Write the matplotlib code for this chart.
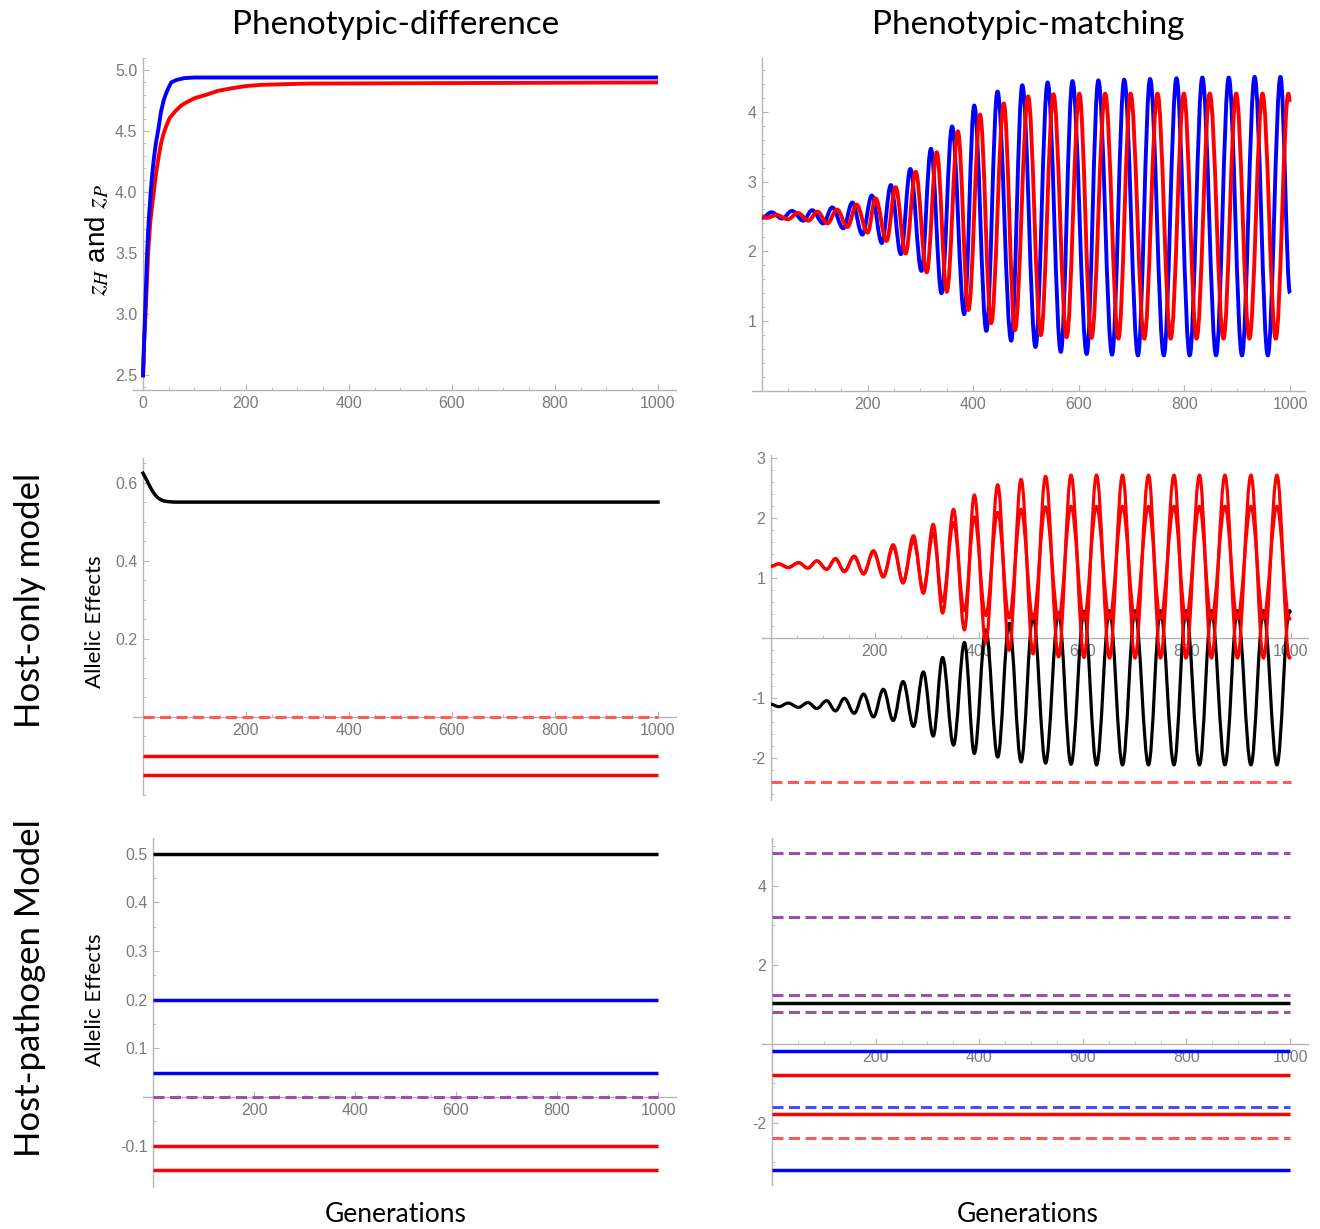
import numpy as np
import matplotlib
matplotlib.use("Agg")
import matplotlib.pyplot as plt
from matplotlib.path import Path
from matplotlib.patches import PathPatch
from matplotlib.ticker import FixedLocator, FormatStrFormatter

plt.rcParams['mathtext.fontset'] = 'stix'

# ---- data ----
# top left: phenotypic-difference trait means
tl_t = [0, 2, 4, 6, 8, 10, 12, 15, 18, 21, 25, 30, 35, 40, 44, 50, 55, 65, 80, 100, 150, 1000]
tl_blue = [2.48, 2.75, 3.00, 3.25, 3.50, 3.68, 3.82, 4.00, 4.15, 4.27, 4.40, 4.52, 4.66, 4.75, 4.80, 4.86, 4.90, 4.92, 4.935, 4.94, 4.94, 4.94]
tl_red_t = [0, 2, 5, 8, 10, 14, 18, 21, 25, 30, 35, 40, 46, 52, 62, 74, 86, 100, 124, 145, 170, 200, 230, 270, 320, 1000]
tl_red = [2.50, 2.75, 3.00, 3.30, 3.50, 3.75, 3.90, 4.00, 4.14, 4.28, 4.40, 4.48, 4.55, 4.61, 4.66, 4.71, 4.74, 4.77, 4.80, 4.83, 4.85, 4.87, 4.88, 4.885, 4.89, 4.90]

# top right: phenotypic-matching trait means (turning points)
tr_blue_t = [0, 18, 38, 57, 78, 95, 116, 133, 154, 171, 190, 208, 227, 244, 263, 281, 302, 320,
             340, 360, 383, 402, 425, 446, 472, 493, 518, 541, 566, 588, 615, 637, 663, 686,
             712, 735, 761, 785, 810, 834, 860, 884, 909, 933, 958, 982, 1000]
tr_blue = [2.48, 2.56, 2.47, 2.58, 2.44, 2.59, 2.40, 2.63, 2.33, 2.70, 2.24, 2.80, 2.12, 2.95, 1.96,
           3.18, 1.72, 3.47, 1.40, 3.79, 1.10, 4.09, 0.86, 4.29, 0.72, 4.38, 0.63, 4.42, 0.56, 4.44,
           0.53, 4.45, 0.52, 4.46, 0.51, 4.47, 0.51, 4.48, 0.51, 4.49, 0.51, 4.49, 0.51, 4.50, 0.51,
           4.50, 1.40]
tr_red_t = [0, 9, 28, 49, 68, 88, 105, 124, 142, 162, 179, 200, 215, 236, 253, 272, 291, 312, 331,
            350, 371, 391, 413, 434, 458, 479, 504, 528, 552, 577, 601, 624, 650, 675, 698, 724,
            749, 774, 799, 823, 848, 874, 898, 923, 948, 973, 997, 1000]
tr_red = [2.50, 2.48, 2.52, 2.46, 2.55, 2.44, 2.57, 2.40, 2.60, 2.35, 2.67, 2.27, 2.76, 2.15, 2.92,
          1.97, 3.14, 1.70, 3.42, 1.42, 3.72, 1.16, 3.96, 0.97, 4.12, 0.87, 4.22, 0.80, 4.25, 0.77,
          4.26, 0.76, 4.26, 0.75, 4.26, 0.75, 4.26, 0.75, 4.26, 0.75, 4.26, 0.75, 4.26, 0.75, 4.26,
          0.75, 4.26, 4.14]

# middle left: host-only model, phenotypic-difference
ml_black_t = [0, 5, 10, 15, 20, 25, 30, 35, 40, 50, 60, 80, 100, 1000]
ml_black = [0.625, 0.613, 0.600, 0.587, 0.576, 0.567, 0.561, 0.557, 0.554, 0.552, 0.551, 0.551, 0.551, 0.551]
ml_red = [-0.10, -0.15]
ml_red_dash = [0.0]

# middle right: host-only model, phenotypic-matching (turning points)
mr_t = [0, 15, 33, 53, 71, 88, 107, 124, 141, 160, 178, 197, 216, 235, 254, 274, 293, 312, 330,
        351, 372, 391, 413, 436, 458, 481, 504, 528, 553, 577, 602, 626, 651, 676, 700, 726, 749,
        775, 798, 824, 847, 873, 897, 923, 947, 973, 997, 1000]
mr_black = [-1.10, -1.14, -1.08, -1.15, -1.07, -1.17, -1.04, -1.21, -1.00, -1.25, -0.93, -1.31,
            -0.85, -1.37, -0.72, -1.47, -0.56, -1.63, -0.32, -1.78, -0.07, -1.92, 0.14, -1.98, 0.25,
            -2.06, 0.39, -2.08, 0.43, -2.10, 0.45, -2.11, 0.46, -2.11, 0.46, -2.11, 0.46, -2.11,
            0.46, -2.11, 0.46, -2.11, 0.46, -2.11, 0.46, -2.11, 0.46, 0.42]
mr_red_outer = [1.20, 1.24, 1.18, 1.26, 1.17, 1.29, 1.15, 1.33, 1.11, 1.37, 1.07, 1.46, 1.02, 1.56,
                0.92, 1.71, 0.75, 1.90, 0.42, 2.15, 0.14, 2.39, -0.07, 2.56, -0.20, 2.65, -0.26,
                2.70, -0.31, 2.72, -0.32, 2.72, -0.33, 2.72, -0.33, 2.72, -0.33, 2.72, -0.33, 2.72,
                -0.33, 2.72, -0.33, 2.72, -0.33, 2.72, -0.33, -0.30]
mr_red_inner = [1.20, 1.24, 1.18, 1.26, 1.17, 1.29, 1.15, 1.32, 1.12, 1.36, 1.08, 1.44, 1.04, 1.52,
                0.95, 1.62, 0.82, 1.75, 0.62, 1.93, 0.46, 2.02, 0.38, 2.10, 0.34, 2.15, 0.32, 2.19,
                0.32, 2.20, 0.32, 2.20, 0.32, 2.20, 0.32, 2.20, 0.32, 2.20, 0.32, 2.20, 0.32, 2.20,
                0.32, 2.20, 0.32, 2.20, 0.32, 0.34]
mr_red_dash = [-2.40]

# bottom left: host-pathogen model, phenotypic-difference
bl_black = [0.50]
bl_blue = [0.20, 0.05]
bl_purple_dash = [0.0]
bl_red = [-0.10, -0.15]

# bottom right: host-pathogen model, phenotypic-matching
br_purple_dash = [4.83, 3.22, 1.23, 0.82]
br_black = [1.03]
br_blue = [-0.18, -3.19]
br_blue_dash = [-1.59]
br_red = [-0.78, -1.78]
br_red_dash = [-2.39]

gen_end = 1000

BLUE = '#0000ff'
RED = '#ff0000'
RED_D = '#ff5a5a'
BLUE_D = '#4b4bff'
PURPLE = '#9e4fae'
AXIS = '#b5b5b5'
TICK = '#7a7a7a'


def wave(ax, t, v, color, lw, k=0.364):
    # smooth stroke through the turning points (horizontal tangents)
    verts = [(t[0], v[0])]
    codes = [Path.MOVETO]
    for i in range(len(t) - 1):
        dt = t[i + 1] - t[i]
        verts += [(t[i] + k * dt, v[i]), (t[i + 1] - k * dt, v[i + 1]), (t[i + 1], v[i + 1])]
        codes += [Path.CURVE4] * 3
    ax.add_patch(PathPatch(Path(verts, codes), fill=False, ec=color, lw=lw,
                           capstyle='butt', joinstyle='round', zorder=3))


def flat(ax, levels, color, lw=2.5, dashed=False):
    ls = (0, (3.6, 1.8)) if dashed else '-'
    ax.hlines(levels, 0, gen_end, colors=color, lw=lw, linestyles=ls, zorder=3)


def style(ax, xlim, ylim, xticks, yticks, fmt, xaxis_at=0):
    ax.set_xlim(*xlim)
    ax.set_ylim(*ylim)
    for s in ['top', 'right']:
        ax.spines[s].set_visible(False)
    ax.spines['left'].set_position(('data', 0))
    ax.spines['bottom'].set_position(('data', xaxis_at))
    for s in ['left', 'bottom']:
        ax.spines[s].set_color(AXIS)
        ax.spines[s].set_linewidth(1.0)
        ax.spines[s].set_zorder(1)
    ax.xaxis.set_major_locator(FixedLocator(xticks))
    ax.yaxis.set_major_locator(FixedLocator(yticks))
    ax.yaxis.set_major_formatter(FormatStrFormatter(fmt))
    ax.minorticks_on()
    ax.tick_params(which='major', direction='in', length=4, width=0.8, color=AXIS,
                   labelcolor=TICK, labelsize=11.5, pad=4)
    ax.tick_params(which='minor', direction='in', length=2, width=0.6, color=AXIS)
    for lab in ax.get_xticklabels() + ax.get_yticklabels():
        lab.set_family('Liberation Sans')
    ax.patch.set_alpha(0)


W, H = 1320, 1229
fig = plt.figure(figsize=(W / 100, H / 100), dpi=100)


def box(x0, y0, x1, y1):
    return fig.add_axes([x0 / W, 1 - y1 / H, (x1 - x0) / W, (y1 - y0) / H])


xt_all = [0, 200, 400, 600, 800, 1000]
xt = [200, 400, 600, 800, 1000]

# top left
ax = box(133, 58, 676, 390)
ax.plot(tl_red_t, tl_red, color=RED, lw=2.8, solid_capstyle='butt', zorder=3)
ax.plot(tl_t, tl_blue, color=BLUE, lw=2.8, solid_capstyle='butt', zorder=3)
style(ax, (-19.4, 1035), (2.377, 5.10), xt_all, [2.5, 3.0, 3.5, 4.0, 4.5, 5.0], '%.1f', xaxis_at=2.377)

# top right
ax = box(752, 58, 1305, 391)
wave(ax, tr_blue_t, tr_blue, BLUE, 2.8)
wave(ax, tr_red_t, tr_red, RED, 2.8)
style(ax, (-18.9, 1028.4), (0, 4.77), xt, [1, 2, 3, 4], '%d')

# middle left
ax = box(133, 458, 676, 795)
ax.plot(ml_black_t, ml_black, color='black', lw=2.5, zorder=3)
flat(ax, ml_red, RED)
flat(ax, ml_red_dash, RED_D, lw=2.2, dashed=True)
style(ax, (-19.4, 1035), (-0.20, 0.664), xt, [0.2, 0.4, 0.6], '%.1f')

# middle right
ax = box(762, 455, 1308, 800)
wave(ax, mr_t, mr_black, 'black', 2.3)
wave(ax, mr_t, mr_red_outer, RED, 2.3)
wave(ax, mr_t, mr_red_inner, RED, 2.3)
flat(ax, mr_red_dash, RED_D, lw=2.2, dashed=True)
style(ax, (-17.3, 1032.7), (-2.695, 3.055), xt, [-2, -1, 1, 2, 3], '%d')

# bottom left
ax = box(143, 838, 676, 1187)
flat(ax, bl_black, 'black')
flat(ax, bl_blue, BLUE)
flat(ax, bl_red, RED)
flat(ax, bl_purple_dash, PURPLE, lw=2.2, dashed=True)
style(ax, (-19.8, 1035.6), (-0.185, 0.532), xt, [-0.1, 0.1, 0.2, 0.3, 0.4, 0.5], '%.1f')

# bottom right
ax = box(762, 838, 1308, 1185)
flat(ax, br_purple_dash, PURPLE, lw=2.2, dashed=True)
flat(ax, br_black, 'black')
flat(ax, br_blue, BLUE)
flat(ax, br_blue_dash, BLUE_D, lw=2.2, dashed=True)
flat(ax, br_red, RED)
flat(ax, br_red_dash, RED_D, lw=2.2, dashed=True)
style(ax, (-19.3, 1034.7), (-3.57, 5.215), xt, [-2, 2, 4], '%d')

# labels
head = dict(family=['Lato', 'DejaVu Sans'], color='black')
fig.text(396 / W, 1 - 25 / H, 'Phenotypic-difference', ha='center', va='center', fontsize=24, **head)
fig.text(1028 / W, 1 - 25 / H, 'Phenotypic-matching', ha='center', va='center', fontsize=24, **head)
fig.text(30 / W, 1 - 600 / H, 'Host-only model', ha='center', va='center', rotation=90, fontsize=25, **head)
fig.text(30 / W, 1 - 988 / H, 'Host-pathogen Model', ha='center', va='center', rotation=90, fontsize=25, **head)
fig.text(95 / W, 1 - 622 / H, 'Allelic Effects', ha='center', va='center', rotation=90, fontsize=16, **head)
fig.text(95 / W, 1 - 1000 / H, 'Allelic Effects', ha='center', va='center', rotation=90, fontsize=16, **head)
fig.text(98 / W, 1 - 240 / H, r'$z_H$ and $z_P$', ha='center', va='center', rotation=90, fontsize=20,
         family=['Liberation Sans', 'DejaVu Sans'])
fig.text(396 / W, 1 - 1215 / H, 'Generations', ha='center', va='center', fontsize=19, **head)
fig.text(1028 / W, 1 - 1215 / H, 'Generations', ha='center', va='center', fontsize=19, **head)

fig.savefig('out.png', dpi=100, facecolor='white')
